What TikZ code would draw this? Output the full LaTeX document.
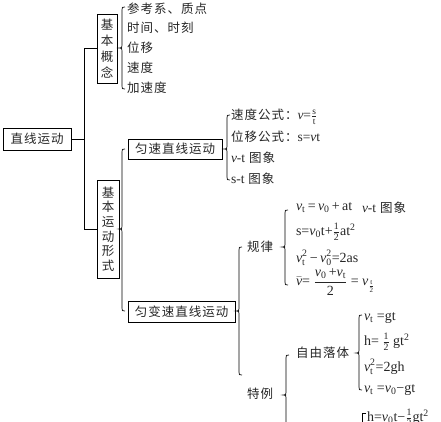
\documentclass[tikz,border=0pt]{standalone}
\usepackage{amsmath}
\usepackage{fontspec}
\setmainfont{Liberation Serif}
\newfontfamily\cjk[LetterSpace=8]{Noto Sans CJK SC}
\newcommand\mybrace[4]{\draw[brc] (#1+3,#2) .. controls (#1,#2) .. (#1,#2+3) -- (#1,#3-3) .. controls (#1,#3) .. (#1-3,#3) .. controls (#1,#3) .. (#1,#3+3) -- (#1,#4-3) .. controls (#1,#4) .. (#1+3,#4);}
\newcommand\vi{\textit{v}}
\begin{document}
\begin{tikzpicture}[x=1pt,y=-1pt,
  every node/.style={inner sep=0pt, outer sep=0pt, text=black!85},
  ln/.style={line width=0.8pt, black},
  brc/.style={line width=0.7pt, black},
  box/.style={draw, line width=0.8pt, font=\cjk\fontsize{12.5}{14}\selectfont},
  vbox/.style={draw, line width=0.8pt, align=center, inner sep=0pt},
  item/.style={anchor=west, font=\cjk\fontsize{12.5}{14}\selectfont},
  fm/.style={anchor=west, font=\rmfamily\fontsize{14}{16}\selectfont}]
\useasboundingbox (0,0) rectangle (441,422);
\clip (0,0) rectangle (441,422);
\fill[white] (0,0) rectangle (441,422);

% main boxes
\node[box, minimum width=68pt, minimum height=22pt] (zx) at (37,139) {直线运动};
\node[vbox, minimum width=20pt, minimum height=69pt, font=\cjk\fontsize{12.5}{16}\selectfont] (gn) at (107,48.5) {基\\本\\概\\念};
\node[vbox, minimum width=22pt, minimum height=98pt, font=\cjk\fontsize{12.5}{14.6}\selectfont] (yd) at (108,229) {基\\本\\运\\动\\形\\式};
\node[box, minimum width=94pt, minimum height=20pt] (ys) at (175,149) {匀速直线运动};
\node[box, minimum width=107pt, minimum height=21pt] (ybs) at (181.5,311.5) {匀变速直线运动};

% main bracket
\draw[ln] (zx.east) -- (84,139);
\draw[ln] (gn.west) -- ++(-13,0) |- (yd.west);

% braces
\mybrace{122}{7}{48}{89}
\mybrace{122}{149}{229}{311}
\mybrace{227}{115}{149}{180}
\mybrace{239}{247}{311}{375}
\mybrace{285}{210}{247}{285}
\mybrace{286}{355}{395}{435}
\mybrace{359}{315}{353}{390}
\draw[brc] (366,413) -- (362,413) -- (362,440);

% basic concepts
\node[item] (a1) at (127,9) {参考系、质点};
\node[item] (a2) at (127,28) {时间、时刻};
\node[item] (a3) at (127,48) {位移};
\node[item] (a4) at (127,68) {速度};
\node[item] (a5) at (127,88) {加速度};

% uniform motion
\node[item] (b1) at (231,117) {速度公式：{\rmfamily\fontsize{13.5}{15}\selectfont\vi=$\frac{\text{s}}{\text{t}}$}};
\node[item] (b2) at (231,137) {位移公式：{\rmfamily\fontsize{13.5}{15}\selectfont s=\vi t}};
\node[item] (b3) at (231,158) {{\rmfamily\fontsize{13.5}{15}\selectfont\vi-t} 图象};
\node[item] (b4) at (231,179) {{\rmfamily\fontsize{13.5}{15}\selectfont s-t} 图象};

% uniformly accelerated motion
\node[item] (gl) at (247,247) {规律};
\node[item] (tl) at (247,394) {特例};
\node[item] (zy) at (296,353) {自由落体};

\node[fm] (c1) at (296,208) {\vi$_\text{t}$\,=\,\vi$_\text{0}$\,+\,at};
\node[item] (c1b) at (362,208) {{\rmfamily\fontsize{13.5}{15}\selectfont\vi-t} 图象};
\node[fm] (c2) at (296,232) {s=\vi$_\text{0}$t+$\frac{\text{1}}{\text{2}}$at$^\text{2}$};
\node[fm] (c3) at (296,258) {\vi$_\text{t}^\text{2}$\,−\,\vi$_\text{0}^\text{2}$=2as};
\node[fm] (c4) at (296,282) {$\bar{\text{\vi}}$= $\dfrac{\text{\vi$_\text{0}$\,+\vi$_\text{t}$}}{\text{2}}$ = \vi$_{\frac{\text{t}}{\text{2}}}$};

\node[fm] (d1) at (364,318) {\vi$_\text{t}$ =gt};
\node[fm] (d2) at (364,342) {h= $\frac{\text{1}}{\text{2}}$ gt$^\text{2}$};
\node[fm] (d3) at (364,367) {\vi$_\text{t}^\text{2}$=2gh};
\node[fm] (d4) at (364,390) {\vi$_\text{t}$ =\vi$_\text{0}$−gt};
\node[fm] (e1) at (367,418) {h=\vi$_\text{0}$t−$\frac{\text{1}}{\text{2}}$gt$^\text{2}$};
\end{tikzpicture}
\end{document}
